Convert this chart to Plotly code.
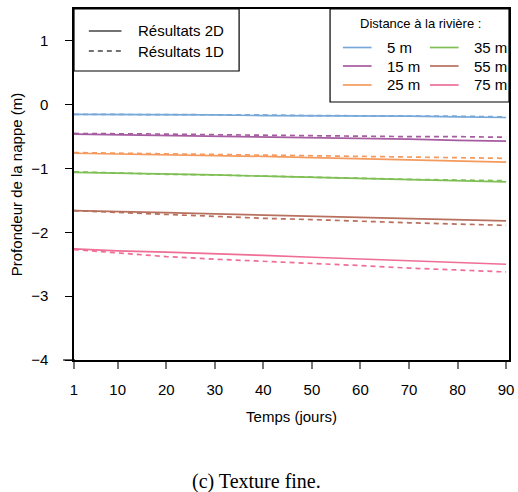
import plotly.graph_objects as go

# ---- data ----
days = [1, 10, 20, 30, 40, 50, 60, 70, 80, 90]
distances = ["5 m", "15 m", "25 m", "35 m", "55 m", "75 m"]
colors = ["#78A8D8", "#A65CA0", "#F49A5E", "#7FBF55", "#B7705E", "#EE6E96"]

res_2d_5 = [-0.15, -0.15, -0.16, -0.16, -0.17, -0.17, -0.18, -0.18, -0.19, -0.20]
res_1d_5 = [-0.15, -0.15, -0.16, -0.16, -0.16, -0.17, -0.17, -0.18, -0.18, -0.19]
res_2d_15 = [-0.46, -0.47, -0.48, -0.49, -0.51, -0.52, -0.53, -0.54, -0.56, -0.57]
res_1d_15 = [-0.45, -0.46, -0.46, -0.47, -0.48, -0.48, -0.49, -0.50, -0.50, -0.51]
res_2d_25 = [-0.76, -0.77, -0.78, -0.80, -0.81, -0.83, -0.85, -0.86, -0.88, -0.90]
res_1d_25 = [-0.75, -0.76, -0.77, -0.78, -0.79, -0.80, -0.81, -0.82, -0.83, -0.84]
res_2d_35 = [-1.06, -1.07, -1.09, -1.10, -1.12, -1.14, -1.16, -1.17, -1.19, -1.21]
res_1d_35 = [-1.05, -1.07, -1.09, -1.10, -1.12, -1.13, -1.15, -1.17, -1.18, -1.19]
res_2d_55 = [-1.66, -1.67, -1.69, -1.71, -1.73, -1.75, -1.77, -1.78, -1.80, -1.82]
res_1d_55 = [-1.66, -1.69, -1.72, -1.75, -1.78, -1.80, -1.83, -1.85, -1.87, -1.89]
res_2d_75 = [-2.26, -2.29, -2.31, -2.33, -2.36, -2.39, -2.42, -2.45, -2.47, -2.50]
res_1d_75 = [-2.27, -2.32, -2.38, -2.42, -2.45, -2.49, -2.52, -2.56, -2.59, -2.62]

series_2d = [res_2d_5, res_2d_15, res_2d_25, res_2d_35, res_2d_55, res_2d_75]
series_1d = [res_1d_5, res_1d_15, res_1d_25, res_1d_35, res_1d_55, res_1d_75]

x_ticks = [1, 10, 20, 30, 40, 50, 60, 70, 80, 90]
y_ticks = [-4, -3, -2, -1, 0, 1]

# ---- layout geometry (pixels) ----
W, H = 518, 492
ML, MR, MT, MB = 74, 4, 9, 132
PW = W - ML - MR
PH = H - MT - MB


def px(x):
    return (x - ML) / PW


def py(y):
    return (H - MB - y) / PH


FONT = "Liberation Sans, Arial, sans-serif"
FS = 15

fig = go.Figure()
for name, c, s2, s1 in zip(distances, colors, series_2d, series_1d):
    fig.add_trace(go.Scatter(x=days, y=s2, mode="lines", name=name + " 2D",
                             line=dict(color=c, width=1.7), showlegend=False))
    fig.add_trace(go.Scatter(x=days, y=s1, mode="lines", name=name + " 1D",
                             line=dict(color=c, width=1.7, dash="5px,4px"),
                             showlegend=False))

shapes = []
annotations = []

# extension of bottom axis line to the left (as in the reference)
shapes.append(dict(type="line", xref="paper", yref="paper", x0=px(63), x1=px(75),
                   y0=0, y1=0, line=dict(color="black", width=1.2)))

# Legend 1
shapes.append(dict(type="rect", xref="paper", yref="paper", x0=px(74), x1=px(241),
                   y0=py(71), y1=py(9), line=dict(color="black", width=1.2),
                   fillcolor="white", layer="above"))
for ly, lab, dash in [(31, "Résultats 2D", "solid"), (51, "Résultats 1D", "5px,4px")]:
    shapes.append(dict(type="line", xref="paper", yref="paper", x0=px(89), x1=px(122),
                       y0=py(ly), y1=py(ly), line=dict(color="#444444", width=1.5, dash=dash)))
    annotations.append(dict(xref="paper", yref="paper", x=px(137), y=py(ly), text=lab,
                            showarrow=False, xanchor="left", yanchor="middle",
                            font=dict(family=FONT, size=FS, color="black")))

# Legend 2
shapes.append(dict(type="rect", xref="paper", yref="paper", x0=px(333), x1=px(514),
                   y0=py(102), y1=py(9), line=dict(color="black", width=1.2),
                   fillcolor="white", layer="above"))
annotations.append(dict(xref="paper", yref="paper", x=px(424), y=py(24),
                        text="Distance à la rivière :", showarrow=False,
                        xanchor="center", yanchor="middle",
                        font=dict(family=FONT, size=13, color="black")))
rows = [47.5, 66, 85]
cols = [(346, 375, 389), (434, 463, 477)]
for i, (name, c) in enumerate(zip(distances, colors)):
    col = cols[i // 3]
    ry = rows[i % 3]
    shapes.append(dict(type="line", xref="paper", yref="paper", x0=px(col[0]), x1=px(col[1]),
                       y0=py(ry), y1=py(ry), line=dict(color=c, width=1.7), layer="above"))
    annotations.append(dict(xref="paper", yref="paper", x=px(col[2]), y=py(ry), text=name,
                            showarrow=False, xanchor="left", yanchor="middle",
                            font=dict(family=FONT, size=FS, color="black")))

# caption
annotations.append(dict(xref="paper", yref="paper", x=px(259), y=py(481),
                        text="(c) Texture fine.", showarrow=False,
                        xanchor="center", yanchor="middle",
                        font=dict(family="Liberation Serif, Times New Roman, serif",
                                  size=20, color="black")))

fig.update_layout(
    width=W, height=H,
    margin=dict(l=ML, r=MR, t=MT, b=MB, pad=0),
    paper_bgcolor="white", plot_bgcolor="white",
    font=dict(family=FONT, size=FS, color="black"),
    shapes=shapes, annotations=annotations,
    xaxis=dict(range=[1, 90.6], tickvals=x_ticks, ticks="outside", ticklen=7,
               tickcolor="#777777", tickwidth=1.5, showgrid=False, zeroline=False,
               showline=True, linecolor="black", linewidth=1.5, mirror=True,
               tickfont=dict(size=FS), ticklabelstandoff=8,
               title=dict(text="Temps (jours)", font=dict(size=FS), standoff=15)),
    yaxis=dict(range=[-4, 1.5], tickvals=y_ticks, ticks="outside", ticklen=7,
               tickcolor="black", tickwidth=1.2, showgrid=False, zeroline=False,
               showline=True, linecolor="black", linewidth=1.5, mirror=True,
               tickfont=dict(size=FS), ticklabelstandoff=14,
               title=dict(text="Profondeur de la nappe (m)", font=dict(size=FS), standoff=5)),
)

fig.write_html("out.html", config={"displayModeBar": False},
               post_script="document.body.style.margin='0';")
